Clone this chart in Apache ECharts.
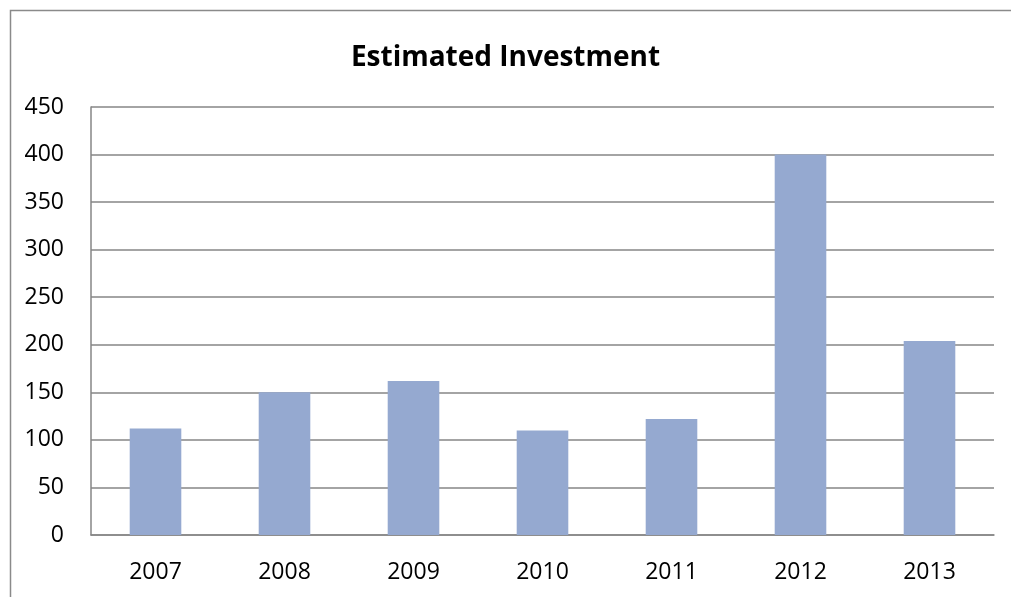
<!DOCTYPE html>
<html>
<head>
<meta charset="utf-8">
<script src="https://cdn.jsdelivr.net/npm/echarts@6/dist/echarts.min.js"></script>
<style>
html,body{margin:0;padding:0;background:#fff;}
#chart{width:1011px;height:597px;}
</style>
</head>
<body>
<div id="chart"></div>
<script>
const categories = ['2007','2008','2009','2010','2011','2012','2013'];
const investment = [112, 150, 162, 110, 122, 400, 204];
const yTicks = { min: 0, max: 450, interval: 50 };
const titleText = 'Estimated Investment';

const chart = echarts.init(document.getElementById('chart'));
chart.setOption({
  backgroundColor: '#ffffff',
  animation: false,
  graphic: [{
    type: 'rect',
    shape: { x: 10.5, y: 10.5, width: 1010, height: 600 },
    style: { fill: 'none', stroke: '#8a8a8a', lineWidth: 1.5 },
    silent: true
  }],
  title: {
    text: titleText,
    left: 'center',
    top: 39,
    textStyle: { fontFamily: 'Open Sans', fontWeight: 'bold', fontSize: 28, color: '#000' }
  },
  grid: { left: 91, right: 17, top: 107, bottom: 62 },
  xAxis: {
    type: 'category',
    data: categories,
    axisLine: { lineStyle: { color: '#868686', width: 1.5 } },
    axisTick: { show: false },
    axisLabel: { color: '#000', fontFamily: 'Open Sans', fontSize: 23, margin: 26 }
  },
  yAxis: {
    type: 'value',
    min: yTicks.min, max: yTicks.max, interval: yTicks.interval,
    axisLine: { show: true, lineStyle: { color: '#868686', width: 1.5 } },
    axisTick: { show: false },
    splitLine: { lineStyle: { color: '#868686', width: 1.5 } },
    axisLabel: { color: '#000', fontFamily: 'Open Sans', fontSize: 23, margin: 27 }
  },
  series: [{
    type: 'bar',
    data: investment,
    barCategoryGap: '60%',
    itemStyle: { color: '#95a9d0' }
  }]
});
</script>
</body>
</html>
